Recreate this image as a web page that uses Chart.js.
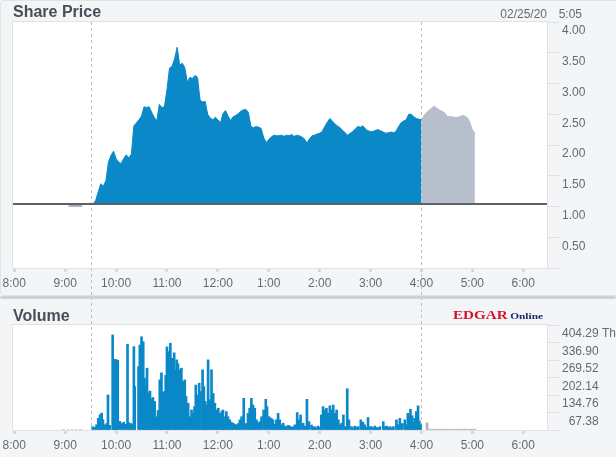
<!DOCTYPE html>
<html>
<head>
<meta charset="utf-8">
<script src="https://cdn.jsdelivr.net/npm/chart.js@4.4.1/dist/chart.umd.min.js"></script>
<style>
  html,body{margin:0;padding:0;background:#f3f5f7;}
  #wrap{position:relative;width:616px;height:457px;overflow:hidden;}
  #frame{position:absolute;left:0;top:0;width:640px;height:296px;border:1px solid #e0e4e7;border-radius:4px;box-sizing:border-box;}
  canvas{position:absolute;left:0;}
  #price{top:0;}
  #vol{top:297px;}
  #sep{position:absolute;left:0;top:296px;width:616px;height:3px;background:#ced2d6;border-radius:2px;}
</style>
</head>
<body>
<div id="wrap">
  <div id="frame"></div>
  <canvas id="price" width="616" height="297"></canvas>
  <canvas id="vol" width="616" height="160"></canvas>
  <div id="sep"></div>
</div>
<script>
// ---- data (minutes after 8:00) ----
const hourTicks  = [0, 60, 120, 180, 240, 300, 360, 420, 480, 540, 600];
const hourLabels = ['8:00','9:00','10:00','11:00','12:00','1:00','2:00','3:00','4:00','5:00','6:00'];
const xMin = -1.5, xMax = 628;
const sessionMarks = [90, 480];            // 9:30 open, 4:00 close
const prevClose = 1.04;

const priceTicks = [0, 0.5, 1, 1.5, 2, 2.5, 3, 3.5, 4];

// regular session, one sample every 3 min from 9:33
const regStart = 93, regStep = 3;
const regPrices = [
  1.04,1.10,1.24,1.37,1.33,1.42,1.72,1.83,1.90,1.78,
  1.72,1.70,1.78,1.84,1.79,1.85,2.31,2.36,2.41,2.47,
  2.62,2.61,2.62,2.53,2.45,2.39,2.66,2.61,2.62,2.90,
  3.25,3.28,3.40,3.59,3.30,3.33,3.26,3.02,3.10,3.08,
  3.13,3.10,2.73,2.70,2.71,2.50,2.44,2.41,2.45,2.41,
  2.36,2.51,2.56,2.47,2.40,2.46,2.48,2.51,2.55,2.57,
  2.58,2.53,2.30,2.28,2.30,2.29,2.27,2.12,2.04,2.09,
  2.13,2.16,2.15,2.15,2.16,2.14,2.16,2.15,2.17,2.14,
  2.16,2.15,2.13,2.10,2.03,2.10,2.15,2.16,2.18,2.19,
  2.22,2.30,2.37,2.43,2.39,2.34,2.31,2.28,2.24,2.20,
  2.16,2.19,2.22,2.26,2.30,2.29,2.31,2.26,2.23,2.22,
  2.22,2.24,2.25,2.23,2.21,2.19,2.20,2.21,2.20,2.22,
  2.30,2.36,2.39,2.41,2.50,2.50,2.46,2.43,2.42,2.41
];

// after hours, every 3 min from 4:00
const ahStart = 480, ahStep = 3;
const ahPrices = [
  2.41,2.48,2.53,2.56,2.60,2.63,2.60,2.57,2.55,2.53,
  2.47,2.46,2.46,2.45,2.45,2.46,2.48,2.47,2.45,2.37,
  2.25,2.19
];

const preTimes  = [64, 80];
const prePrices = [1.01, 1.01];

// volume, thousands
const volTicks      = [0, 67.38, 134.76, 202.14, 269.52, 336.90, 404.29];
const volTickLabels = ['', '\u200767.38', '134.76', '202.14', '269.52', '336.90', '404.29 Thousand'];
const volTimes = [
  92.5,95,97,99,101,103,104.5,107,109,110.5,112.5,116,117.5,119,120.5,122,124.5,127,129,131.5,
  133.5,135,137.5,139.5,141,142,146.5,148,150,152,153.5,155,156.5,158,160,161.5,163.5,165.5,167.5,169.5,
  171.5,173.5,175,176.5,178.5,180,181.5,182.5,184,186,188.5,190,191.5,193,195,197,199,201,202.5,205,
  207,209,211,212.5,214,215.5,218,219.5,222,223.5,225,226.5,228.5,230.5,232.5,234.5,236.5,238.5,240.5,242.5,
  244.5,246,248,250,252,254,256,258,260,262,264,266,268,270.5,273,275.5,277.5,279.5,281.5,283.5,
  285.5,287.5,289.5,291.5,294,296.5,298,300.5,303,305,307,309,311,313,315,317,319,321,323,325,
  327,329,331,333.5,335.5,337.5,340.5,343,345,347.5,350.5,352.5,354,356,358,360,362,364,366,368,
  370,372,374,376,378,380,382,384,386,388,390,392.5,394.5,397.5,399.5,401.5,403.5,405.5,408.5,411,
  413,415,417,419,421,423,425,427,429,431,435,437,439,441,443,445,447,450.5,452.5,454.5,
  457.5,460.5,462.5,464,466,467,469,471,472,474,476,477.5,479
];
const volValues = [
  13,10,20,45,58,65,40,20,25,135,18,366,272,272,270,268,33,25,30,22,
  330,28,25,20,321,167,244,327,359,340,200,170,238,143,150,120,125,110,51,75,
  193,220,140,148,210,320,250,302,334,276,297,230,270,255,232,238,186,193,129,103,
  51,77,64,90,173,135,180,148,232,167,110,96,270,116,232,141,103,77,84,64,
  71,77,51,71,51,39,30,26,22,19,25,39,51,122,25,64,84,122,96,84,
  39,28,32,51,77,118,90,51,45,39,22,39,64,39,20,26,15,13,18,15,
  10,13,20,67,39,58,26,15,118,32,19,10,13,8,15,10,58,90,77,84,
  64,93,77,96,64,77,39,20,26,58,13,159,39,13,8,15,10,13,39,30,
  20,10,48,12,13,8,15,10,8,13,32,12,15,10,13,8,13,39,20,45,
  25,39,20,64,50,80,55,30,45,71,93,35,20
];
const ahVolTimes  = [486.6,489,492,495,498,501,504,507,510,513,516,519,522,525,528,531,534,537,540,543];
const ahVolValues = [28,3,3,3,3,3,3,3,3,3,3,3,3,3,3,3,3,3,3,3];
const preVolTimes  = [58,63,68,73,78];
const preVolValues = [2,2,2,2,2];

// ---- look ----
const FONT = '"Liberation Sans", Arial, sans-serif';
const BLUE = '#0a88c8', AH_GRAY = '#b8bfcc', TXT = '#666a70';
Chart.defaults.font.family = FONT;
Chart.defaults.font.size = 12;
Chart.defaults.color = TXT;

const pts = (xs, ys) => ys.map((y, i) => ({ x: xs[i], y }));
const seq = (start, step, arr) => arr.map((y, i) => ({ x: start + i * step, y }));

function timeAxis(h){
  return {
    type: 'linear', min: xMin, max: xMax, offset: false,
    afterBuildTicks: s => { s.ticks = hourTicks.map(v => ({ value: v })); },
    afterFit: s => { s.height = h; s.paddingLeft = 0; s.paddingRight = 0; },
    grid: { drawOnChartArea: false, drawTicks: true, tickLength: 4, tickWidth: 3, tickColor: '#d5d9dd', offset: false },
    border: { display: false },
    ticks: { autoSkip: false, maxRotation: 0, padding: 4, color: TXT,
             callback: v => hourLabels[hourTicks.indexOf(v)] ?? '' }
  };
}

function panelPlugin(kind){
  return {
    id: 'panel_' + kind,
    beforeDraw(c){
      const a = c.chartArea, ctx = c.ctx;
      ctx.save(); ctx.fillStyle = '#fff'; ctx.fillRect(a.left, a.top, a.width, a.height); ctx.restore();
    },
    beforeDatasetsDraw(c){
      const a = c.chartArea, ctx = c.ctx, xs = c.scales.x;
      ctx.save();
      ctx.strokeStyle = '#bcc0c4'; ctx.lineWidth = 1; ctx.setLineDash([3, 3]);
      sessionMarks.forEach(m => {
        const px = Math.round(xs.getPixelForValue(m)) + 0.5;
        ctx.beginPath();
        if (kind === 'price'){ ctx.moveTo(px, a.top); ctx.lineTo(px, c.height); }
        else { ctx.moveTo(px, 0); ctx.lineTo(px, a.bottom); }
        ctx.stroke();
      });
      ctx.restore();
    },
    afterDraw(c){
      const a = c.chartArea, ctx = c.ctx;
      ctx.save();
      ctx.strokeStyle = '#dfe3e6'; ctx.lineWidth = 1;
      ctx.strokeRect(a.left - 0.5, a.top - 0.5, a.width + 1, a.height + 1);
      ctx.fillStyle = '#4a4d57';
      ctx.font = 'bold 16px ' + FONT;
      ctx.textBaseline = 'alphabetic';
      if (kind === 'price'){
        ctx.fillText('Share Price', 13, 17);
        ctx.font = '12px ' + FONT; ctx.fillStyle = TXT; ctx.textAlign = 'right';
        ctx.fillText('02/25/20', 547, 18);
        ctx.fillText('5:05', 582, 18);
      } else {
        ctx.fillText('Volume', 13, 24);
        // EDGAR Online mark
        ctx.font = 'bold 12px "Liberation Serif", serif';
        const w1 = ctx.measureText('EDGAR').width;
        ctx.font = 'bold 9px "Liberation Serif", serif';
        const w2 = ctx.measureText('Online').width;
        const sx = 90 / (w1 + 2 + w2);
        ctx.translate(453, 21.5); ctx.scale(sx, 1);
        ctx.font = 'bold 12px "Liberation Serif", serif'; ctx.fillStyle = '#d3122b';
        ctx.fillText('EDGAR', 0, 0);
        ctx.font = 'bold 9px "Liberation Serif", serif'; ctx.fillStyle = '#1b2a6b';
        ctx.fillText('Online', w1 + 2, 0);
      }
      ctx.restore();
    }
  };
}

new Chart(document.getElementById('price'), {
  type: 'line',
  data: {
    datasets: [
      { data: [{ x: xMin, y: prevClose }, { x: xMax, y: prevClose }], borderColor: '#5e6267', borderWidth: 2, pointRadius: 0, fill: false },
      { data: pts(preTimes, prePrices), borderColor: '#a7aeb8', borderWidth: 2, pointRadius: 0, fill: false },
      { data: seq(regStart, regStep, regPrices), borderColor: BLUE, backgroundColor: BLUE, borderWidth: 1, pointRadius: 0, tension: 0, fill: { value: prevClose } },
      { data: seq(ahStart, ahStep, ahPrices), borderColor: AH_GRAY, backgroundColor: AH_GRAY, borderWidth: 1, pointRadius: 0, tension: 0, fill: { value: prevClose } }
    ]
  },
  options: {
    responsive: false, animation: false, devicePixelRatio: 1,
    layout: { padding: { left: 13, top: 22, right: 0, bottom: 0 } },
    plugins: { legend: { display: false }, tooltip: { enabled: false } },
    scales: {
      x: timeAxis(29),
      y: {
        position: 'right', min: 0, max: 4,
        afterBuildTicks: s => { s.ticks = priceTicks.map(v => ({ value: v })); },
        afterFit: s => { s.width = 69; s.paddingTop = 0; s.paddingBottom = 0; },
        grid: { drawOnChartArea: false, drawTicks: true, tickLength: 12, tickColor: '#dde1e5' },
        border: { display: false },
        ticks: { padding: 3, labelOffset: 9, color: TXT, callback: v => v === 0 ? '' : v.toFixed(2) }
      }
    }
  },
  plugins: [panelPlugin('price')]
});

new Chart(document.getElementById('vol'), {
  type: 'bar',
  data: {
    datasets: [
      { data: pts(volTimes, volValues), backgroundColor: BLUE, barThickness: 2, grouped: false },
      { data: pts(ahVolTimes, ahVolValues), backgroundColor: '#a9b4c3', barThickness: 2, grouped: false },
      { data: pts(preVolTimes, preVolValues), backgroundColor: '#b9c2cc', barThickness: 2, grouped: false }
    ]
  },
  options: {
    responsive: false, animation: false, devicePixelRatio: 1,
    layout: { padding: { left: 13, top: 28, right: 0, bottom: 0 } },
    plugins: { legend: { display: false }, tooltip: { enabled: false } },
    scales: {
      x: timeAxis(27),
      y: {
        position: 'right', min: 0, max: 404.29,
        afterBuildTicks: s => { s.ticks = volTicks.map(v => ({ value: v })); },
        afterFit: s => { s.width = 69; s.paddingTop = 0; s.paddingBottom = 0; },
        grid: { drawOnChartArea: false, drawTicks: true, tickLength: 12, tickColor: '#dde1e5' },
        border: { display: false },
        ticks: { padding: 3, labelOffset: 9, color: TXT, callback: (v, i) => volTickLabels[i] ?? '' }
      }
    }
  },
  plugins: [panelPlugin('vol')]
});
</script>
</body>
</html>
